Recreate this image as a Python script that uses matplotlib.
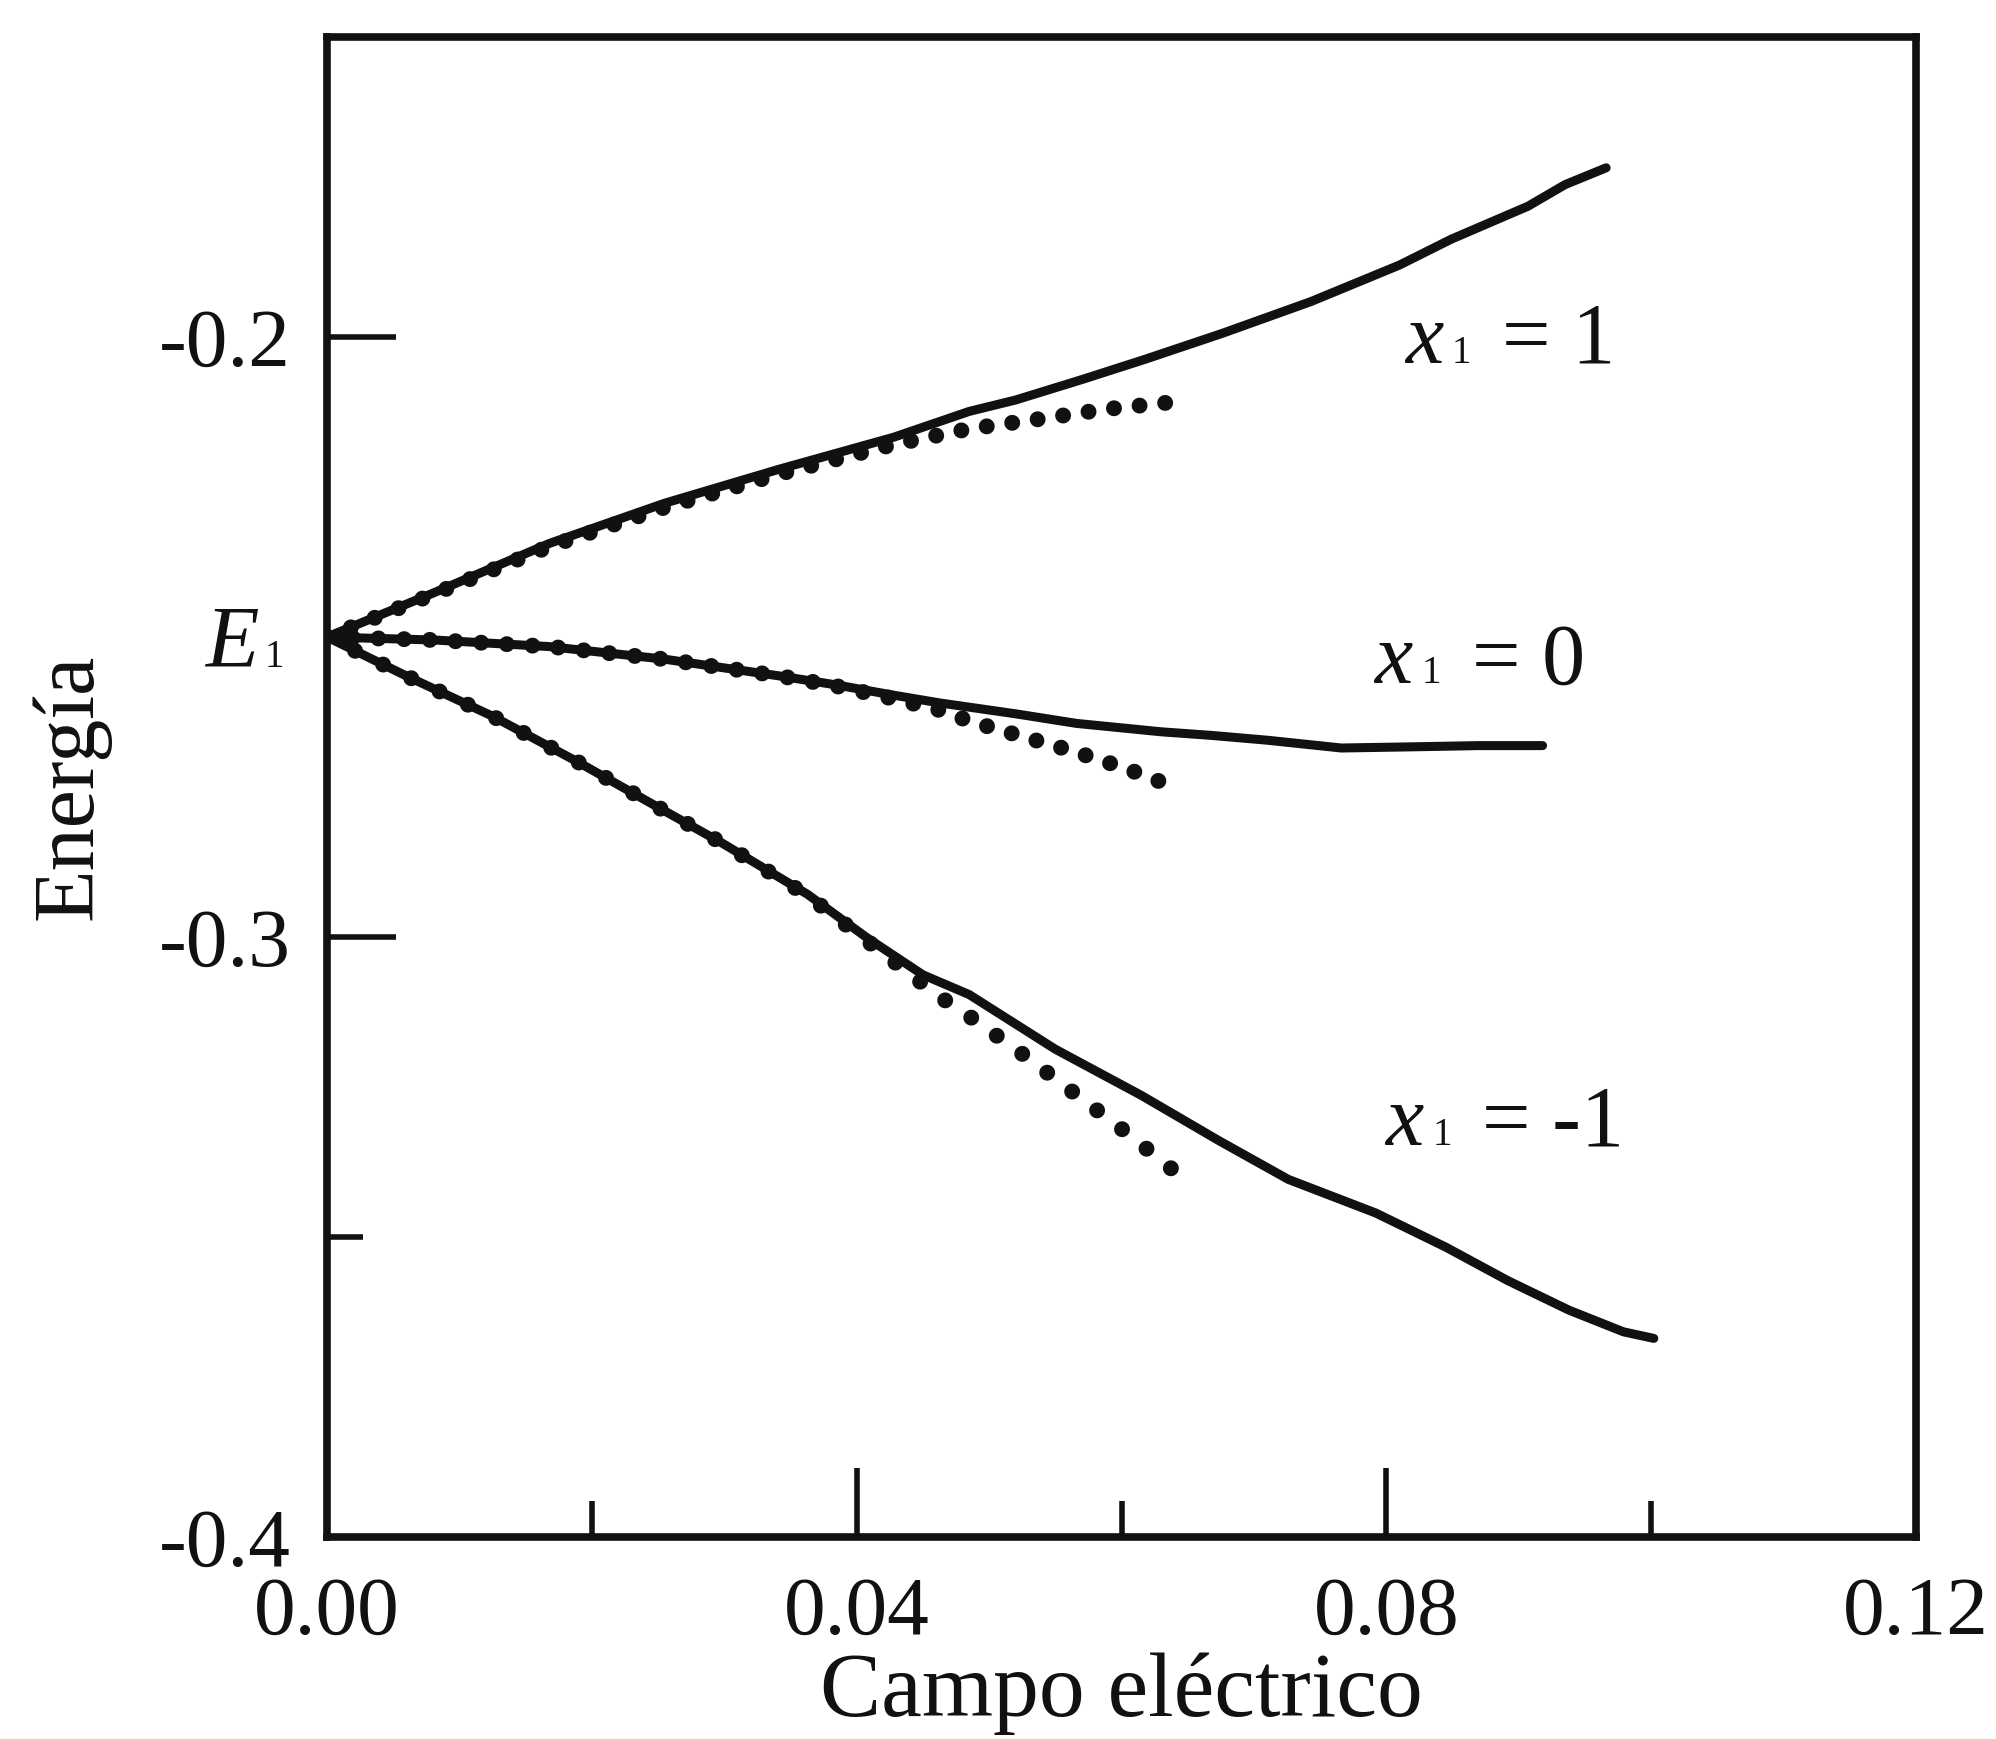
import matplotlib
matplotlib.use("Agg")
import matplotlib.pyplot as plt
import matplotlib.transforms as mtransforms

# ---------------- data ----------------
# x1 = 1 : exact (solid) and perturbative (dotted)
x_up = [0, 0.0081, 0.0168, 0.0255, 0.0342, 0.0428, 0.0485, 0.0520, 0.0570, 0.0618,
        0.0676, 0.0743, 0.0810, 0.0849, 0.0907, 0.0935, 0.0966]
y_up = [-0.2500, -0.2426, -0.2344, -0.2277, -0.2220, -0.2167, -0.2124, -0.2105, -0.2071, -0.2037,
        -0.1994, -0.1941, -0.1880, -0.1837, -0.1782, -0.1746, -0.1718]
x_up_pt = [0, 0.0081, 0.0168, 0.0255, 0.0342, 0.0428, 0.0485, 0.0537, 0.0589, 0.0641]
y_up_pt = [-0.2500, -0.2428, -0.2349, -0.2284, -0.2228, -0.2179, -0.2153, -0.2137, -0.2120, -0.2108]

# x1 = 0
x_mid = [0, 0.0081, 0.0168, 0.0255, 0.0342, 0.0385, 0.0428, 0.0463, 0.0520, 0.0566,
         0.0630, 0.0668, 0.0710, 0.0766, 0.0821, 0.0870, 0.0918]
y_mid = [-0.2500, -0.2505, -0.2516, -0.2537, -0.2565, -0.2580, -0.2597, -0.2610, -0.2628, -0.2644,
         -0.2658, -0.2664, -0.2672, -0.2685, -0.2683, -0.2681, -0.2681]
x_mid_pt = [0, 0.0081, 0.0168, 0.0255, 0.0342, 0.0385, 0.0428, 0.0463, 0.0485, 0.0524,
            0.0563, 0.0602, 0.0641]
y_mid_pt = [-0.2500, -0.2505, -0.2516, -0.2537, -0.2565, -0.2582, -0.2603, -0.2622, -0.2640, -0.2665,
            -0.2690, -0.2718, -0.2751]

# x1 = -1
x_lo = [0, 0.0060, 0.0125, 0.0190, 0.0255, 0.0298, 0.0363, 0.0407, 0.0450, 0.0485,
        0.0550, 0.0615, 0.0674, 0.0726, 0.0792, 0.0845, 0.0892, 0.0938, 0.0979, 0.1002]
y_lo = [-0.2500, -0.2565, -0.2632, -0.2709, -0.2790, -0.2843, -0.2929, -0.3000, -0.3063, -0.3096,
        -0.3187, -0.3264, -0.3340, -0.3404, -0.3460, -0.3517, -0.3573, -0.3622, -0.3658, -0.3669]
x_lo_pt = [0, 0.0060, 0.0125, 0.0190, 0.0255, 0.0298, 0.0363, 0.0407, 0.0463, 0.0485,
           0.0524, 0.0563, 0.0602, 0.0641]
y_lo_pt = [-0.2500, -0.2565, -0.2632, -0.2709, -0.2790, -0.2843, -0.2931, -0.3005, -0.3100, -0.3132,
           -0.3193, -0.3258, -0.3323, -0.3392]

x_major = [0.00, 0.04, 0.08, 0.12]
x_major_labels = ["0.00", "0.04", "0.08", "0.12"]
x_minor = [0.02, 0.06, 0.10]
y_major = [-0.4, -0.3, -0.2]
y_major_labels = ["-0.4", "-0.3", "-0.2"]
y_minor = [-0.35]
E1_value = -0.25

curve_labels = [("1", 0.0814, -0.2043), ("0", 0.0791, -0.2577), ("-1", 0.0799, -0.3347)]

# ---------------- figure ----------------
SERIF = ["Liberation Serif", "DejaVu Serif"]
plt.rcParams["font.family"] = SERIF
INK = "#111111"

fig = plt.figure(figsize=(19.96, 17.39), dpi=100)
ax = fig.add_axes([0.16383, 0.11616, 0.79609, 0.86256])
ax.set_xlim(0, 0.12)
ax.set_ylim(-0.4, -0.15)

solid_kw = dict(color=INK, lw=6.5, solid_capstyle="round", solid_joinstyle="round", zorder=3)
ax.plot(x_up, y_up, **solid_kw)
ax.plot(x_mid, y_mid, **solid_kw)
ax.plot(x_lo, y_lo, **solid_kw)

DOT_LW = 11.5

def dotted(xs, ys, period_pt):
    ax.plot(xs, ys, color=INK, lw=DOT_LW, linestyle=(0, (0.001, period_pt / DOT_LW)),
            dash_capstyle="round", zorder=4)

dotted(x_up_pt, y_up_pt, 18.5)
dotted(x_mid_pt, y_mid_pt, 18.5)
dotted(x_lo_pt, y_lo_pt, 22.5)

for sp in ax.spines.values():
    sp.set_linewidth(5.5)
    sp.set_color(INK)

ax.set_xticks(x_major)
ax.set_xticklabels(x_major_labels)
ax.set_xticks(x_minor, minor=True)
ax.set_yticks(y_major)
ax.set_yticklabels(y_major_labels)
ax.set_yticks(y_minor, minor=True)
ax.tick_params(which="both", direction="in", top=False, right=False, color=INK,
               width=4, labelsize=60, labelcolor=INK)
ax.tick_params(which="major", length=50)
ax.tick_params(which="minor", length=26)
ax.tick_params(axis="x", which="major", pad=28)
ax.tick_params(axis="y", which="major", pad=26)

ax.set_xlabel("Campo eléctrico", fontsize=66, color=INK)
ax.xaxis.set_label_coords(0.5, -0.077)
ax.set_ylabel("Energía", fontsize=62, color=INK)
ax.yaxis.set_label_coords(-0.136, 0.5)

# E1 label on the y axis
blend = mtransforms.blended_transform_factory(ax.transAxes, ax.transData)
ax.text(-0.077, E1_value - 0.005, "E", transform=blend, fontsize=63, fontstyle="italic",
        va="baseline", ha="left", color=INK)
ax.annotate("1", xy=(-0.077, E1_value - 0.005), xycoords=blend, xytext=(43, 0),
            textcoords="offset points", fontsize=28, va="baseline", ha="left", color=INK)

# curve labels  x1 = ...
for val, lx, ly in curve_labels:
    ax.text(lx, ly, "x", fontsize=62, fontstyle="italic", va="baseline", ha="left", color=INK)
    ax.annotate("1", xy=(lx, ly), xytext=(34, 0), textcoords="offset points",
                fontsize=28, va="baseline", ha="left", color=INK)
    ax.annotate("= " + val, xy=(lx, ly), xytext=(70, 0), textcoords="offset points",
                fontsize=62, va="baseline", ha="left", color=INK)

fig.savefig("out.png", dpi=100, facecolor="white")
